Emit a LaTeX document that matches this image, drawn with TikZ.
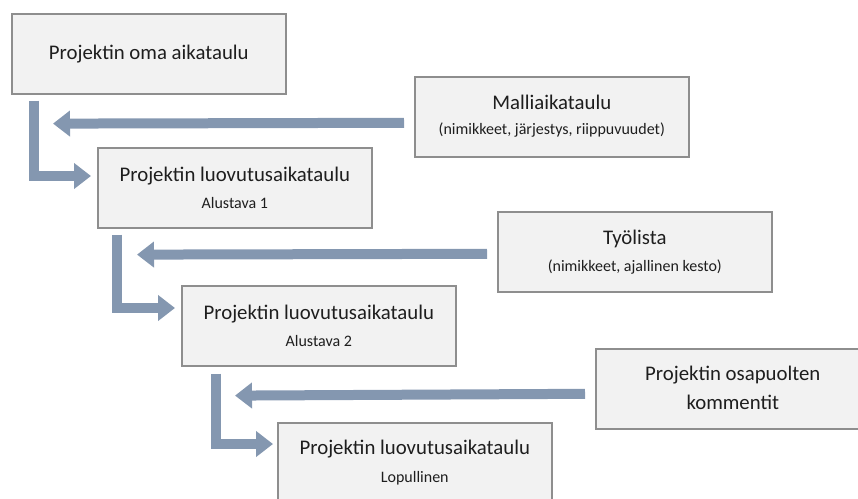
\documentclass[tikz,border=0pt]{standalone}
\usepackage{fontspec}
\setmainfont{Carlito}
\usetikzlibrary{arrows.meta,calc}
\definecolor{boxfill}{HTML}{F2F2F2}
\definecolor{boxline}{HTML}{8E8E8E}
\definecolor{flow}{HTML}{8497B0}
\definecolor{ink}{HTML}{1E1E1E}
\tikzset{
  stage/.style={draw=boxline, line width=1.6pt, fill=boxfill,
    minimum width=274pt, minimum height=80pt, anchor=north west, inner sep=0pt},
  flowarrow/.style={draw=flow, line width=10pt, line join=miter,
    -{Triangle[width=25pt,length=17pt]}},
  title/.style={font=\fontsize{20.8}{24}\selectfont, text=ink, inner sep=0pt},
  sub/.style={font=\fontsize{16}{19}\selectfont, text=ink, inner sep=0pt},
}
\begin{document}
\begin{tikzpicture}[x=1pt,y=-1pt]
\useasboundingbox (0,0) rectangle (858,498);
\clip (0,0) rectangle (858,498);

% schedule boxes
\node[stage] (own)   at (11,13)  {};
\node[stage] (tmpl)  at (414,76) {};
\node[stage] (plan1) at (97,147) {};
\node[stage] (work)  at (497,211) {};
\node[stage] (plan2) at (181,285) {};
\node[stage] (parts) at (595,348) {};
\node[stage] (final) at (277,422) {};

% box texts
\node[title] (ownT) at (own.center) {Projektin oma aikataulu};
\node[title] (tmplT) at ($(tmpl.north)+(0,26)$) {Malliaikataulu};
\node[sub]   (tmplS) at ($(tmpl.north)+(0,54)$) {(nimikkeet, järjestys, riippuvuudet)};
\node[title] (plan1T) at ($(plan1.north)+(0,29)$) {Projektin luovutusaikataulu};
\node[sub]   (plan1S) at ($(plan1.north)+(0,56)$) {Alustava 1};
\node[title] (workT) at ($(work.north)+(0,28)$) {Työlista};
\node[sub]   (workS) at ($(work.north)+(0,56)$) {(nimikkeet, ajallinen kesto)};
\node[title] (plan2T) at ($(plan2.north)+(0,29)$) {Projektin luovutusaikataulu};
\node[sub]   (plan2S) at ($(plan2.north)+(0,56)$) {Alustava 2};
\node[title] (partsT) at ($(parts.north)+(0,27)$) {Projektin osapuolten};
\node[title] (partsS) at ($(parts.north)+(0,54)$) {kommentit};
\node[title] (finalT) at ($(final.north)+(0,27)$) {Projektin luovutusaikataulu};
\node[sub]   (finalS) at ($(final.north)+(0,56)$) {Lopullinen};

% ends of the inbound arrows
\coordinate (in1) at ($(own.south west)+(42,29)$);
\coordinate (in2) at ($(plan1.south west)+(40,26)$);
\coordinate (in3) at ($(plan2.south west)+(54,29)$);

% elbow arrows from one stage to the next
\draw[flowarrow] ($(own.south west)+(22.5,6)$) |- ($(plan1.north west)+(-6,29)$);
\draw[flowarrow] ($(plan1.south west)+(20,6)$) |- ($(plan2.north west)+(-6,23)$);
\draw[flowarrow] ($(plan2.south west)+(35,7)$) |- ($(final.north west)+(-4,22)$);

% inputs feeding each stage
\draw[flowarrow] ($(tmpl.west)+(-10,6)$) -- (in1);
\draw[flowarrow] ($(work.west)+(-10,2)$) -- (in2);
\draw[flowarrow] ($(parts.west)+(-10,5)$) -- (in3);
\end{tikzpicture}
\end{document}
